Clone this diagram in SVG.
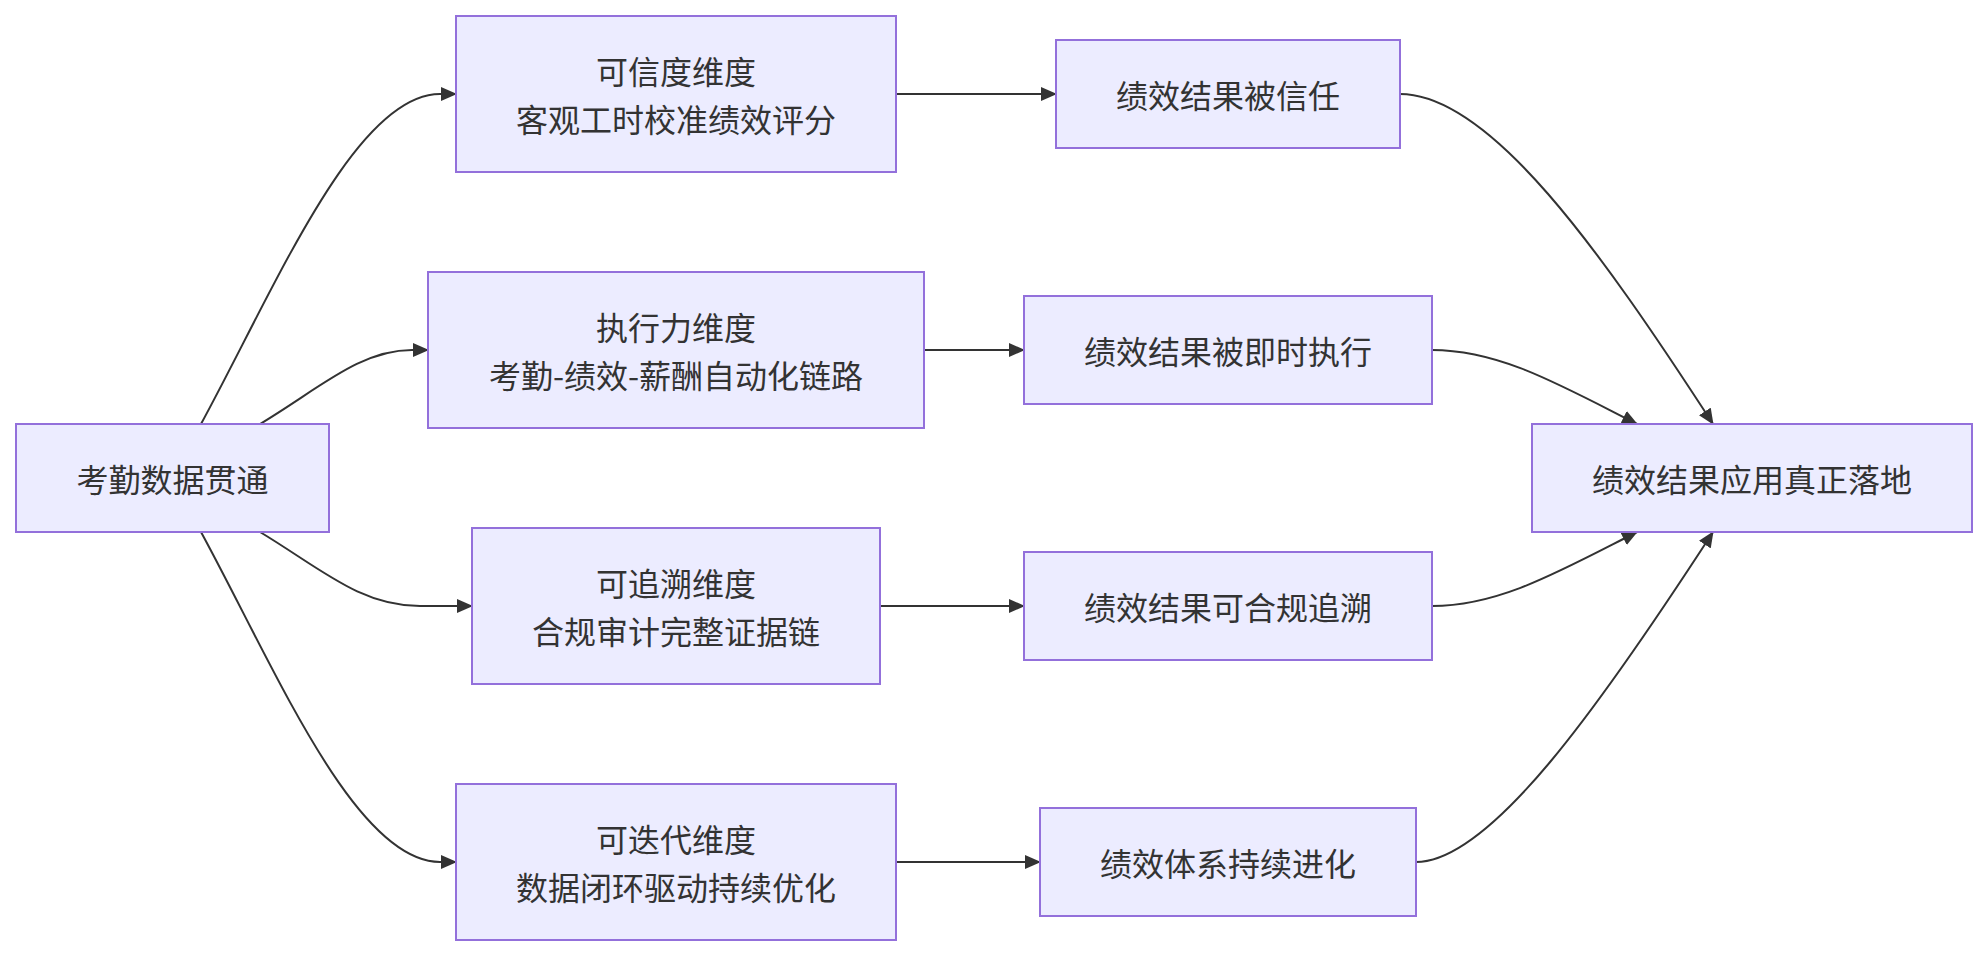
<svg xmlns="http://www.w3.org/2000/svg" width="1987" height="956" viewBox="0 0 1987 956">
<defs>
<style>
.node rect{fill:#ECECFF;stroke:#9370DB;stroke-width:2}
.node text{font-family:"Noto Sans CJK SC","Noto Sans",sans-serif;font-size:32px;fill:#333;text-anchor:middle;dominant-baseline:central}
.edges path{fill:none;stroke:#333;stroke-width:2}
</style>
<marker id="arrow" markerUnits="userSpaceOnUse" markerWidth="16" markerHeight="14" viewBox="0 0 16 14" refX="15" refY="7" orient="auto">
<path d="M0,0 L16,7 L0,14 z" fill="#333"/>
</marker>
</defs>
<rect width="1987" height="956" fill="#fff"/>
<g class="edges">
<path d="M201,424 C275,288 355,94 440,94 L456,94" marker-end="url(#arrow)"/>
<path d="M260,424 C320,388 360,350 412,350 L428,350" marker-end="url(#arrow)"/>
<path d="M260,532 C320,568 360,606 420,606 L472,606" marker-end="url(#arrow)"/>
<path d="M201,532 C275,668 355,862 440,862 L456,862" marker-end="url(#arrow)"/>
<path d="M896,94 L1056,94" marker-end="url(#arrow)"/>
<path d="M924,350 L1024,350" marker-end="url(#arrow)"/>
<path d="M880,606 L1024,606" marker-end="url(#arrow)"/>
<path d="M896,862 L1040,862" marker-end="url(#arrow)"/>
<path d="M1400,94 C1490,94 1600,250 1713,424" marker-end="url(#arrow)"/>
<path d="M1432,350 C1500,350 1560,385 1637,424" marker-end="url(#arrow)"/>
<path d="M1432,606 C1500,606 1560,571 1637,532" marker-end="url(#arrow)"/>
<path d="M1416,862 C1490,862 1600,706 1713,532" marker-end="url(#arrow)"/>
</g>
<g id="start" class="node"><rect x="16" y="424" width="313" height="108"/><text x="172.5" y="478">考勤数据贯通</text></g>
<g id="dimA" class="node"><rect x="456" y="16" width="440" height="156"/><text x="676" y="70">可信度维度</text><text x="676" y="118">客观工时校准绩效评分</text></g>
<g id="dimB" class="node"><rect x="428" y="272" width="496" height="156"/><text x="676" y="326">执行力维度</text><text x="676" y="374">考勤-绩效-薪酬自动化链路</text></g>
<g id="dimC" class="node"><rect x="472" y="528" width="408" height="156"/><text x="676" y="582">可追溯维度</text><text x="676" y="630">合规审计完整证据链</text></g>
<g id="dimD" class="node"><rect x="456" y="784" width="440" height="156"/><text x="676" y="838">可迭代维度</text><text x="676" y="886">数据闭环驱动持续优化</text></g>
<g id="resA" class="node"><rect x="1056" y="40" width="344" height="108"/><text x="1228" y="94">绩效结果被信任</text></g>
<g id="resB" class="node"><rect x="1024" y="296" width="408" height="108"/><text x="1228" y="350">绩效结果被即时执行</text></g>
<g id="resC" class="node"><rect x="1024" y="552" width="408" height="108"/><text x="1228" y="606">绩效结果可合规追溯</text></g>
<g id="resD" class="node"><rect x="1040" y="808" width="376" height="108"/><text x="1228" y="862">绩效体系持续进化</text></g>
<g id="final" class="node"><rect x="1532" y="424" width="440" height="108"/><text x="1752" y="478">绩效结果应用真正落地</text></g>
</svg>
